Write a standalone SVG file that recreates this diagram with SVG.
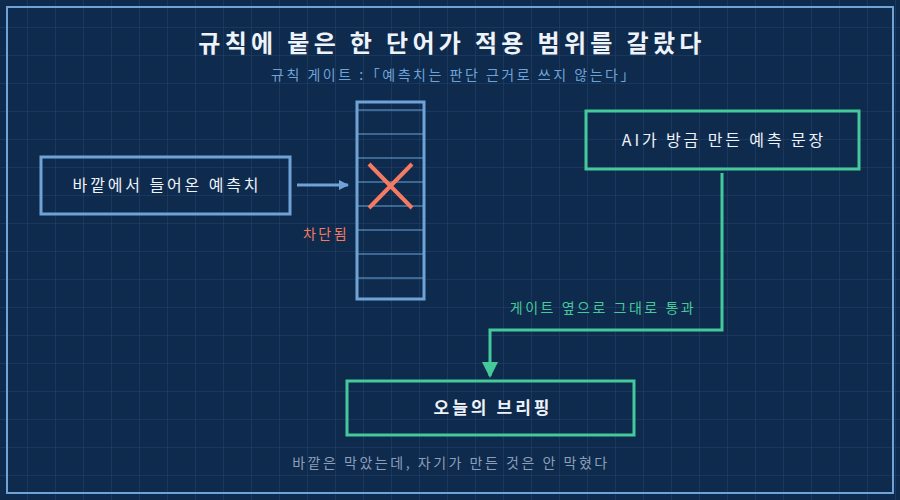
<svg xmlns="http://www.w3.org/2000/svg" width="900" height="500" viewBox="0 0 900 500">
<defs>
<pattern id="g" width="28" height="28" patternUnits="userSpaceOnUse"><path d="M28 0V28M0 28H28" fill="none" stroke="#25436b" stroke-width="1"/></pattern>
<marker id="ab" markerWidth="10" markerHeight="10" refX="9" refY="5" orient="auto" markerUnits="userSpaceOnUse" viewBox="0 0 10 10"><path d="M0 0L10 5L0 10Z" fill="#6fa3d8"/></marker>
<marker id="ag" markerWidth="16" markerHeight="16" refX="14" refY="8" orient="auto" markerUnits="userSpaceOnUse" viewBox="0 0 16 16"><path d="M0 0L16 8L0 16Z" fill="#45c99a"/></marker>
</defs>
<style>
text{font-family:"Noto Sans CJK KR","Noto Sans",sans-serif;text-anchor:middle;letter-spacing:0.18em}
.b{fill:none;stroke:#6fa3d8;stroke-width:3}
.gr{fill:none;stroke:#45c99a;stroke-width:3}
</style>
<rect width="900" height="500" fill="#0e2a4d"/>
<rect width="900" height="500" fill="url(#g)"/>
<rect x="7" y="7" width="886" height="486" fill="none" stroke="#6fa3d8" stroke-width="2"/>
<text x="452" y="52" font-size="24" font-weight="bold" fill="#eef3fa">규칙에 붙은 한 단어가 적용 범위를 갈랐다</text>
<text x="454" y="80" font-size="14" fill="#6fa3d8">규칙 게이트 :「예측치는 판단 근거로 쓰지 않는다」</text>
<g id="outside">
<rect class="b" x="41" y="157" width="249" height="57"/>
<text x="167" y="191" font-size="16" fill="#eef3fa">바깥에서 들어온 예측치</text>
</g>
<g id="gate">
<rect class="b" x="357" y="102" width="67" height="197"/>
<path d="M357 110H424M357 134H424M357 158H424M357 182H424M357 206H424M357 230H424M357 254H424M357 278H424" stroke="#6fa3d8" stroke-width="1"/>
<path d="M369 164L412 208M412 164L369 208" stroke="#f47a62" stroke-width="4"/>
<text x="326" y="239" font-size="14" fill="#f47a62">차단됨</text>
</g>
<g id="ai">
<rect class="gr" x="586" y="111" width="273" height="58"/>
<text x="724" y="146" font-size="16" fill="#eef3fa">AI가 방금 만든 예측 문장</text>
</g>
<g id="briefing">
<rect class="gr" x="347" y="381" width="287" height="54"/>
<text x="493" y="414" font-size="17" font-weight="bold" fill="#eef3fa">오늘의 브리핑</text>
</g>
<g id="connectors">
<path d="M297 185H348" stroke="#6fa3d8" stroke-width="3" fill="none" marker-end="url(#ab)"/>
<path class="gr" d="M722 173V330H490V376" marker-end="url(#ag)"/>
<text x="603" y="313" font-size="14" fill="#45c99a">게이트 옆으로 그대로 통과</text>
</g>
<text x="451" y="468" font-size="14" fill="#8a9fba">바깥은 막았는데, 자기가 만든 것은 안 막혔다</text>
</svg>
